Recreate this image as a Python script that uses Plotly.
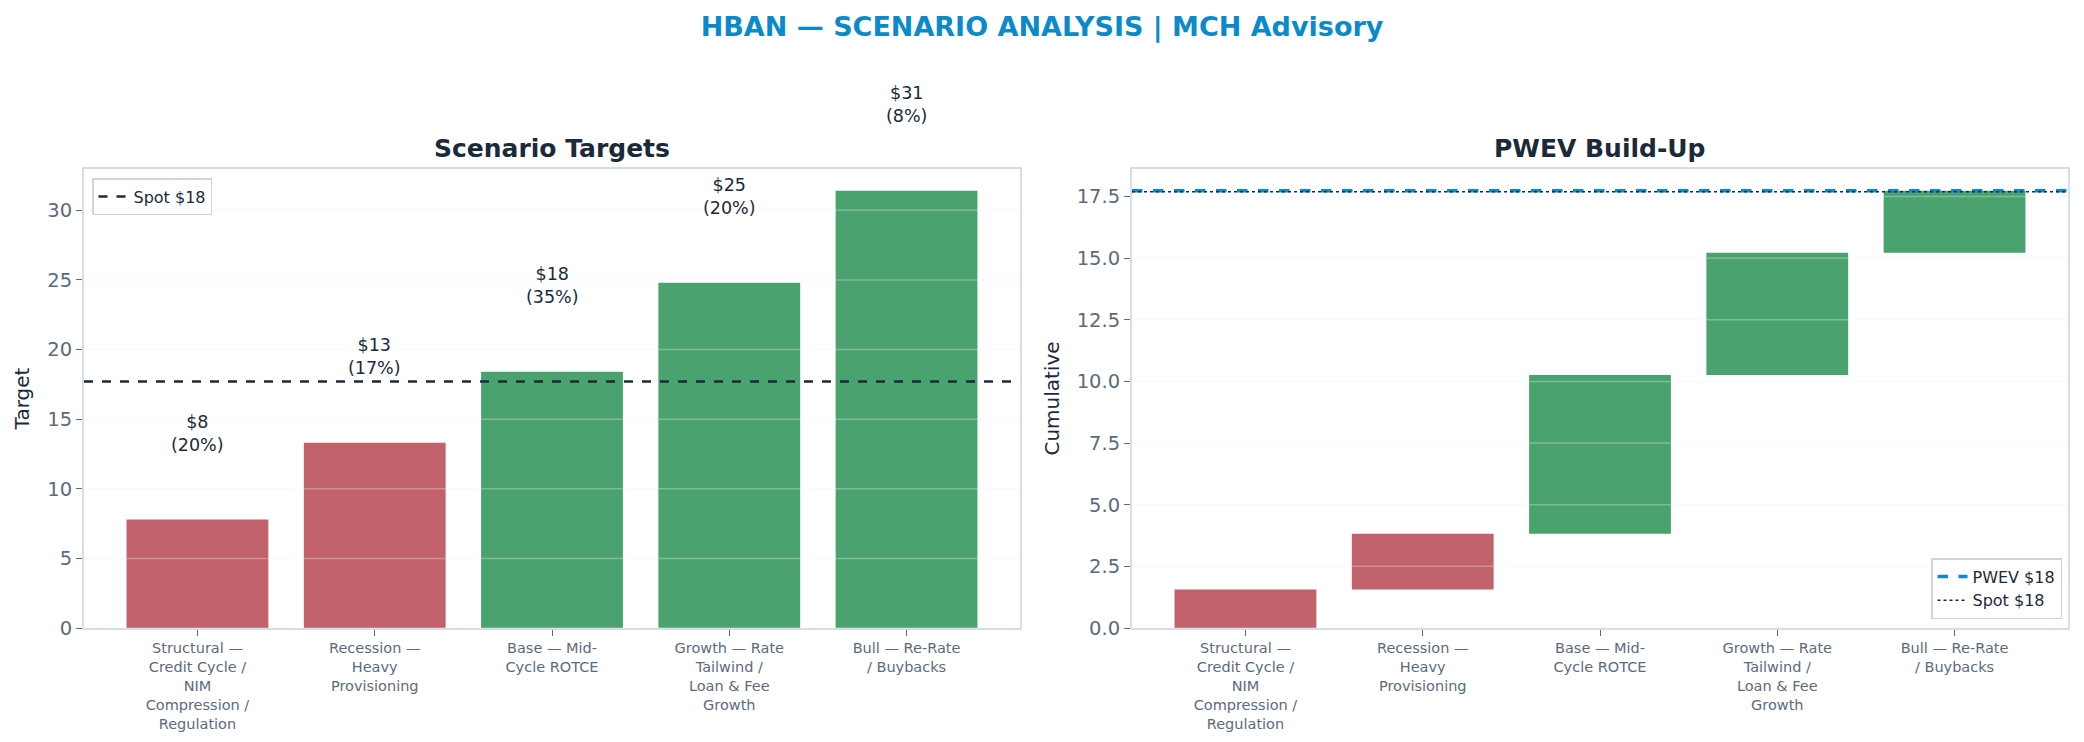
import plotly.graph_objects as go

# ---------------- data ----------------
scenarios = [
    "Structural — Credit Cycle / NIM Compression / Regulation",
    "Recession — Heavy Provisioning",
    "Base — Mid-Cycle ROTCE",
    "Growth — Rate Tailwind / Loan & Fee Growth",
    "Bull — Re-Rate / Buybacks",
]
tick_labels = [
    "Structural —<br>Credit Cycle /<br>NIM<br>Compression /<br>Regulation",
    "Recession —<br>Heavy<br>Provisioning",
    "Base — Mid-<br>Cycle ROTCE",
    "Growth — Rate<br>Tailwind /<br>Loan & Fee<br>Growth",
    "Bull — Re-Rate<br>/ Buybacks",
]
targets = [7.8, 13.3, 18.4, 24.8, 31.4]
probs = [0.20, 0.17, 0.35, 0.20, 0.08]
spot = 17.7
left_ticks = [0, 5, 10, 15, 20, 25, 30]
right_ticks = [0.0, 2.5, 5.0, 7.5, 10.0, 12.5, 15.0, 17.5]

# ---------------- derived ----------------
contrib = [t * p for t, p in zip(targets, probs)]
cum_base = []
run = 0.0
for c in contrib:
    cum_base.append(run)
    run += c
pwev = run

RED = "#c0616b"
GREEN = "#4aa26f"
BLUE = "#0a8acb"
DARK = "#1a2a3a"
GREY = "#5b6b7d"
SPINE = "#d8dde6"
FONT = "DejaVu Sans"

colors = [RED if t < spot else GREEN for t in targets]
xs = list(range(len(scenarios)))
xr = [-0.64, len(scenarios) - 1 + 0.64]
ymax_left = max(targets) * 1.05
ymax_right = pwev * 1.05
label_offset = 6.2

W, H = 2084, 742
def px_x(p):
    return p / W
def px_y(p):
    return 1 - p / H

dom_y = [px_y(628), px_y(169)]
dom_x1 = [px_x(84), px_x(1020)]
dom_x2 = [px_x(1132), px_x(2068)]

fig = go.Figure()

# left bars
fig.add_trace(go.Bar(
    x=xs, y=targets, marker_color=colors, width=0.8, showlegend=False,
    hovertext=scenarios, xaxis="x", yaxis="y", marker_line_width=0,
))
# spot line left
fig.add_trace(go.Scatter(
    x=xr, y=[spot, spot], mode="lines", name=f"Spot ${spot:.0f}",
    line=dict(color=DARK, width=2.5, dash="dash"), xaxis="x", yaxis="y",
    legend="legend",
))

# right waterfall
fig.add_trace(go.Bar(
    x=xs, y=contrib, base=cum_base, marker_color=colors, width=0.8,
    showlegend=False, hovertext=scenarios, xaxis="x2", yaxis="y2",
    marker_line_width=0,
))
fig.add_trace(go.Scatter(
    x=xr, y=[pwev, pwev], mode="lines", name=f"PWEV ${pwev:.0f}",
    line=dict(color=BLUE, width=3.5, dash="dash"), xaxis="x2", yaxis="y2",
    legend="legend2",
))
fig.add_trace(go.Scatter(
    x=xr, y=[spot, spot], mode="lines", name=f"Spot ${spot:.0f}",
    line=dict(color=DARK, width=1.5, dash="dot"), xaxis="x2", yaxis="y2",
    legend="legend2",
))

# gridlines drawn above bars (as in reference)
shapes = []
for v in left_ticks:
    shapes.append(dict(type="line", xref="x domain", yref="y", x0=0, x1=1, y0=v, y1=v,
                       line=dict(color="rgba(235,240,245,0.32)", width=1.5), layer="above"))
for v in right_ticks:
    shapes.append(dict(type="line", xref="x2 domain", yref="y2", x0=0, x1=1, y0=v, y1=v,
                       line=dict(color="rgba(235,240,245,0.32)", width=1.5), layer="above"))

# bar value labels (may extend above the plot area, as in reference)
annotations = []
for x, t, p in zip(xs, targets, probs):
    annotations.append(dict(
        text=f"${t:.0f}<br>({p*100:.0f}%)", xref="x", yref="y domain",
        x=x, y=(t + label_offset) / ymax_left, xanchor="center", yanchor="middle",
        showarrow=False, font=dict(family=FONT, size=17.5, color=DARK),
    ))

annotations += [
    dict(text="<b>Scenario Targets</b>", xref="paper", yref="paper",
         x=(dom_x1[0] + dom_x1[1]) / 2, y=px_y(148), xanchor="center", yanchor="middle",
         showarrow=False, font=dict(family=FONT, size=25, color=DARK)),
    dict(text="<b>PWEV Build-Up</b>", xref="paper", yref="paper",
         x=(dom_x2[0] + dom_x2[1]) / 2, y=px_y(148), xanchor="center", yanchor="middle",
         showarrow=False, font=dict(family=FONT, size=25, color=DARK)),
]

common_x = dict(
    range=xr, tickmode="array", tickvals=xs, ticktext=tick_labels,
    tickfont=dict(family=FONT, size=14.5, color=GREY),
    showline=True, mirror=True, linecolor=SPINE, linewidth=2,
    ticks="outside", ticklen=6, tickcolor=GREY, tickwidth=1,
    showgrid=False, zeroline=False, fixedrange=True, automargin=False,
)
common_y = dict(
    tickfont=dict(family=FONT, size=19.5, color=GREY),
    showline=True, mirror=True, linecolor=SPINE, linewidth=2,
    ticks="outside", ticklen=6, tickcolor=GREY, tickwidth=1,
    showgrid=False, zeroline=False, automargin=False,
    title_font=dict(family=FONT, size=20, color=DARK),
)

fig.update_layout(
    width=W, height=H,
    margin=dict(l=0, r=0, t=0, b=0),
    paper_bgcolor="white", plot_bgcolor="white",
    font=dict(family=FONT, color=DARK),
    bargap=0.2,
    xaxis=dict(domain=dom_x1, anchor="y", **common_x),
    yaxis=dict(domain=dom_y, anchor="x", range=[0, ymax_left],
               tickvals=left_ticks, ticktext=[str(v) for v in left_ticks],
               title=dict(text="Target", standoff=12), **common_y),
    xaxis2=dict(domain=dom_x2, anchor="y2", **common_x),
    yaxis2=dict(domain=dom_y, anchor="x2", range=[0, ymax_right],
                tickvals=right_ticks, ticktext=[f"{v:.1f}" for v in right_ticks],
                title=dict(text="Cumulative", standoff=12), **common_y),
    legend=dict(x=px_x(92), y=px_y(178), xanchor="left", yanchor="top",
                bgcolor="white", bordercolor="#d0d4da", borderwidth=1.5,
                font=dict(family=FONT, size=16, color=DARK),
                itemwidth=30),
    legend2=dict(x=px_x(2062), y=px_y(619), xanchor="right", yanchor="bottom",
                 bgcolor="white", bordercolor="#d0d4da", borderwidth=1.5,
                 font=dict(family=FONT, size=16, color=DARK),
                 itemwidth=30, tracegroupgap=0),
    title=dict(text="<b>HBAN — SCENARIO ANALYSIS | MCH Advisory</b>",
               x=0.5, xanchor="center", y=px_y(27), yanchor="middle",
               font=dict(family=FONT, size=27, color=BLUE)),
    shapes=shapes,
    annotations=annotations,
)

fig.write_html("out.html")
